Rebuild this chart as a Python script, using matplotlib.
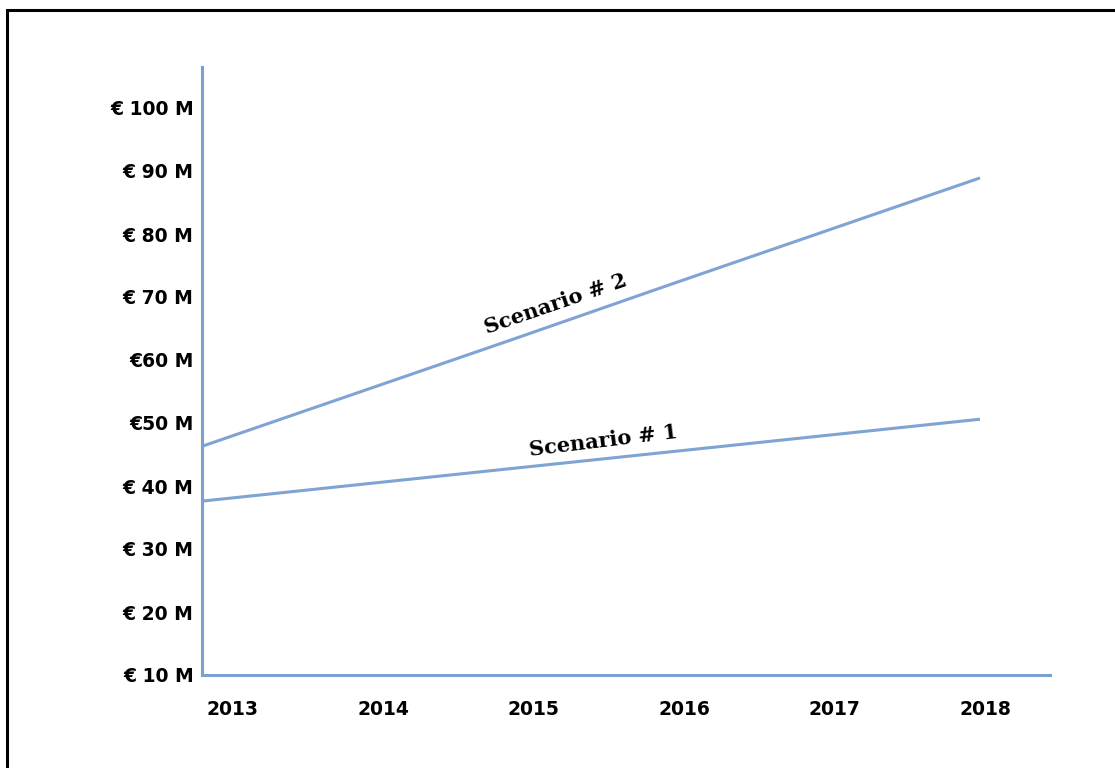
import matplotlib
matplotlib.use("Agg")
import matplotlib.pyplot as plt
from matplotlib.patches import Rectangle

years = [2013, 2014, 2015, 2016, 2017, 2018]
scenario_1 = [37.6, 40.2, 42.8, 45.4, 48.0, 50.6]
scenario_2 = [46.3, 54.8, 63.3, 71.9, 80.4, 88.9]
y_ticks = [10, 20, 30, 40, 50, 60, 70, 80, 90, 100]
y_labels = ["€ 10 M", "€ 20 M", "€ 30 M", "€ 40 M", "€50 M", "€60 M",
            "€ 70 M", "€ 80 M", "€ 90 M", "€ 100 M"]
year_labels = ["2013", "2014", "2015", "2016", "2017", "2018"]

W, H = 1115, 768
fig = plt.figure(figsize=(W / 100, H / 100), dpi=100)
fig.patch.set_facecolor("white")

# outer frame (extends past right and bottom edges)
fig.patches.append(Rectangle((7 / W, -0.05), 1.2, 1 - 10 / H + 0.05,
                             transform=fig.transFigure, fill=False,
                             edgecolor="black", linewidth=2.2, zorder=0))

rect = [202 / W, 1 - 675 / H, (1050 - 202) / W, (675 - 67) / H]
ax = fig.add_axes(rect)
line_color = "#7ea3d4"
axis_color = "#7a9fd0"

ax.plot(years, scenario_2, color=line_color, linewidth=2.2, solid_capstyle="butt")
ax.plot(years, scenario_1, color=line_color, linewidth=2.2, solid_capstyle="butt")

ax.set_xlim(2013, 2013 + (1050 - 202) / 155.6)
ax.set_ylim(10, 10 + (675 - 67) / 63.0 * 10)

for s in ["top", "right"]:
    ax.spines[s].set_visible(False)
for s in ["left", "bottom"]:
    ax.spines[s].set_color(axis_color)
    ax.spines[s].set_linewidth(2.2)

ax.set_yticks(y_ticks)
ax.set_yticklabels(y_labels, fontsize=13.5, fontweight="bold", family="DejaVu Sans")
ax.set_xticks([])
ax.tick_params(axis="both", length=0)
ax.tick_params(axis="y", pad=6)

# category axis for the year labels (own spacing, as in the original)
ax2 = fig.add_axes(rect, frameon=False)
ax2.set_xlim(2013 - 31 / 150.4, 2018 + (1050 - 985) / 150.4)
ax2.set_xticks(years)
ax2.set_xticklabels(year_labels, fontsize=13.5, fontweight="bold", family="DejaVu Sans")
ax2.set_yticks([])
ax2.tick_params(axis="x", length=0, pad=18)
ax2.patch.set_visible(False)

ax.text(2015.27, 68.9, "Scenario # 2", rotation=19, fontsize=15,
        fontweight="bold", family="DejaVu Serif", ha="center", va="center",
        rotation_mode="anchor")
ax.text(2015.58, 47.1, "Scenario # 1", rotation=7, fontsize=15,
        fontweight="bold", family="DejaVu Serif", ha="center", va="center",
        rotation_mode="anchor")

fig.savefig("out.png", dpi=100, facecolor="white")
